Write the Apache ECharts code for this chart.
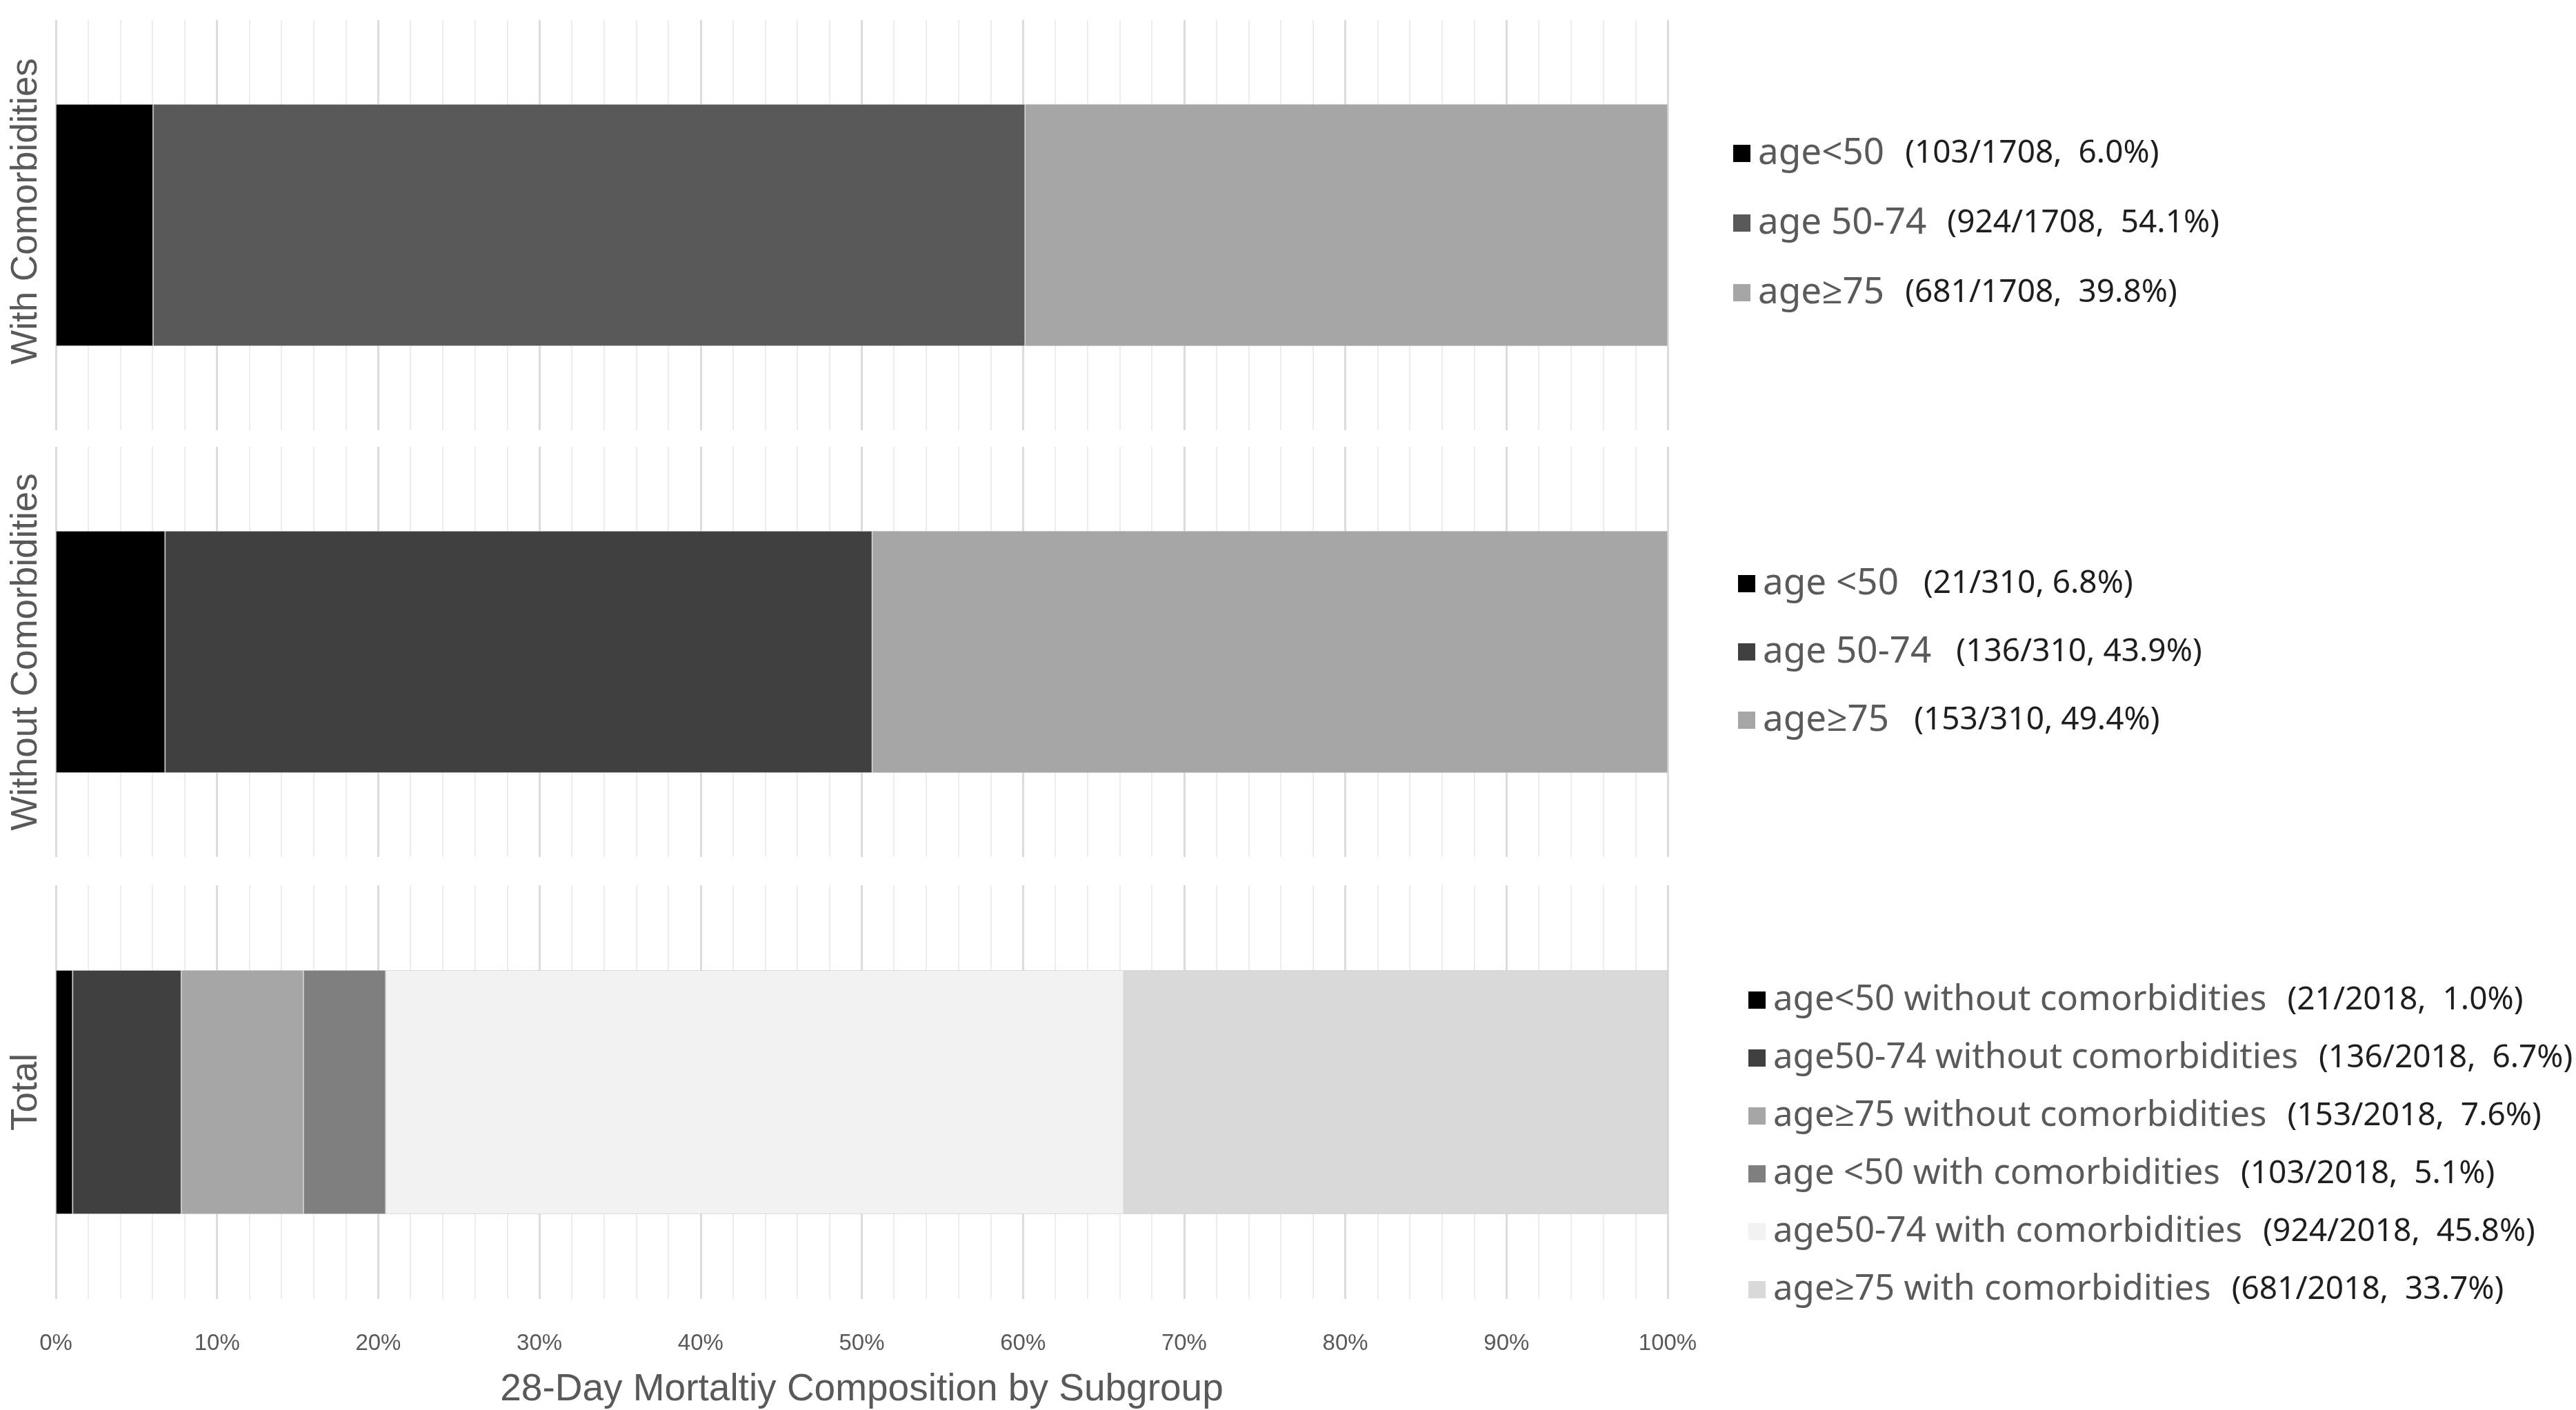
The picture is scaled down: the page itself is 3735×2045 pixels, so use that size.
<!DOCTYPE html>
<html>
<head>
<meta charset="utf-8">
<script src="https://cdn.jsdelivr.net/npm/echarts@6/dist/echarts.min.js"></script>
<style>
html,body{margin:0;padding:0;background:#fff;}
#chart{width:3735px;height:2045px;}
</style>
</head>
<body>
<div id="chart"></div>
<script>
// ---------- data ----------
const panelNames = ['With Comorbidities', 'Without Comorbidities', 'Total'];

const withLabels = ['age<50', 'age 50-74', 'age\u226575'];
const withCounts = [103, 924, 681];
const withTotal = 1708;
const withPctText = ['6.0%', '54.1%', '39.8%'];

const withoutLabels = ['age <50', 'age 50-74', 'age\u226575'];
const withoutCounts = [21, 136, 153];
const withoutTotal = 310;
const withoutPctText = ['6.8%', '43.9%', '49.4%'];

const totalLabels = [
  'age<50 without comorbidities',
  'age50-74 without comorbidities',
  'age\u226575 without comorbidities',
  'age <50 with comorbidities',
  'age50-74 with comorbidities',
  'age\u226575 with comorbidities'
];
const totalCounts = [21, 136, 153, 103, 924, 681];
const totalTotal = 2018;
const totalPctText = ['1.0%', '6.7%', '7.6%', '5.1%', '45.8%', '33.7%'];

const xTickLabels = ['0%','10%','20%','30%','40%','50%','60%','70%','80%','90%','100%'];
const xTitle = '28-Day Mortaltiy Composition by Subgroup';

// ---------- styles ----------
const withColors = ['#000000', '#595959', '#a6a6a6'];
const withoutColors = ['#000000', '#404040', '#a6a6a6'];
const totalColors = ['#000000', '#404040', '#a6a6a6', '#7f7f7f', '#f2f2f2', '#d9d9d9'];

const panels = [
  {labels: withLabels, counts: withCounts, total: withTotal, pct: withPctText, colors: withColors,
   grid: {top: 29, height: 595},
   legend: {left: 2508, top: 191, gap: 48, sep: '  ', fs: 53, pfs: 46, pgap: 30}},
  {labels: withoutLabels, counts: withoutCounts, total: withoutTotal, pct: withoutPctText, colors: withoutColors,
   grid: {top: 648, height: 595},
   legend: {left: 2515, top: 815, gap: 46, sep: ' ', fs: 53, pfs: 46, pgap: 36}},
  {labels: totalLabels, counts: totalCounts, total: totalTotal, pct: totalPctText, colors: totalColors,
   grid: {top: 1284, height: 600},
   legend: {left: 2530, top: 1420, gap: 33, sep: '  ', fs: 51, pfs: 46, pgap: 30}}
];

const PLOT_LEFT = 81, PLOT_W = 2337;
const grayText = '#595959';

const grids = [], xAxes = [], yAxes = [], series = [], legends = [];

panels.forEach((p, i) => {
  grids.push({left: PLOT_LEFT, width: PLOT_W, top: p.grid.top, height: p.grid.height});
  const isLast = i === panels.length - 1;
  xAxes.push({
    type: 'value', gridIndex: i, min: 0, max: 100, interval: 10,
    axisLine: {show: false}, axisTick: {show: false},
    splitLine: {show: true, lineStyle: {color: '#dcdcdc', width: 3}},
    minorTick: {show: false, splitNumber: 5},
    minorSplitLine: {show: true, lineStyle: {color: '#ededed', width: 2}},
    axisLabel: {
      show: isLast, margin: 48, fontSize: 33, color: grayText,
      fontFamily: '"Liberation Sans Narrow", "Liberation Sans", Arial, sans-serif',
      formatter: (v) => xTickLabels[Math.round(v / 10)]
    },
    name: isLast ? xTitle : '', nameLocation: 'middle', nameGap: 104,
    nameTextStyle: {fontSize: 55, color: grayText, fontFamily: '"Liberation Sans", Arial, sans-serif'}
  });
  yAxes.push({
    type: 'category', gridIndex: i, data: [panelNames[i]],
    axisLine: {show: false}, axisTick: {show: false}, splitLine: {show: false},
    axisLabel: {
      rotate: 90, margin: 16, fontSize: 53, color: grayText,
      fontFamily: '"Liberation Sans", Arial, sans-serif',
      padding: i === 0 ? [0, 0, 0, 40] : 0
    }
  });
  p.labels.forEach((name, k) => {
    series.push({
      type: 'bar', name: name, xAxisIndex: i, yAxisIndex: i, stack: 'panel' + i,
      barWidth: '59%',
      data: [p.counts[k] / p.total * 100],
      itemStyle: {color: p.colors[k], borderColor: 'rgba(200,200,200,0.6)', borderWidth: 1},
      silent: true
    });
  });
  const parenMap = {};
  p.labels.forEach((name, k) => {
    parenMap[name] = '(' + p.counts[k] + '/' + p.total + ',' + p.legend.sep + p.pct[k] + ')';
  });
  legends.push({
    orient: 'vertical', left: p.legend.left, top: p.legend.top,
    itemWidth: 25, itemHeight: 25, icon: 'rect', itemGap: p.legend.gap,
    selectedMode: false,
    data: p.labels.map((name, k) => ({name: name, itemStyle: {color: p.colors[k], borderWidth: 0}})),
    formatter: (name) => '{a|' + name + '}{p|' + parenMap[name] + '}',
    textStyle: {
      rich: {
        a: {fontSize: p.legend.fs, color: '#5a5a5a', fontFamily: '"Noto Sans", "Open Sans", sans-serif',
            padding: [0, 0, 0, 6]},
        p: {fontSize: p.legend.pfs, color: '#1e1e1e', fontFamily: '"Noto Sans", "Open Sans", sans-serif',
            padding: [0, 0, 0, p.legend.pgap]}
      }
    }
  });
});

const chart = echarts.init(document.getElementById('chart'), null, {renderer: 'canvas'});
chart.setOption({
  backgroundColor: '#ffffff',
  animation: false,
  grid: grids,
  xAxis: xAxes,
  yAxis: yAxes,
  legend: legends,
  series: series
});
</script>
</body>
</html>
